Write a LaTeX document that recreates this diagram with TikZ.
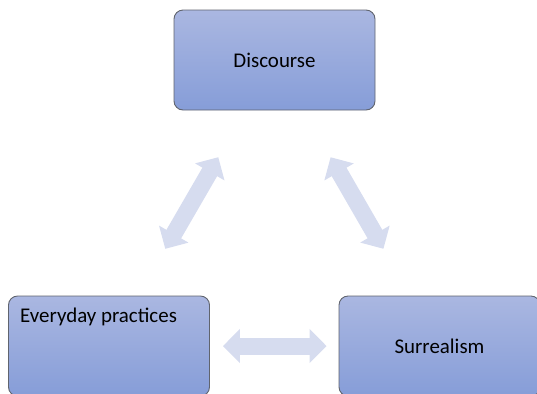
\documentclass[tikz,border=0pt]{standalone}
\usepackage{fontspec}
\setmainfont{Carlito}
\usepackage{tikz}
\usetikzlibrary{arrows.meta}
\definecolor{boxtop}{RGB}{170,183,225}
\definecolor{boxbot}{RGB}{134,157,216}
\definecolor{boxline}{RGB}{96,100,110}
\definecolor{arrowfill}{RGB}{214,220,239}

\begin{document}
\begin{tikzpicture}[x=1bp,y=-1bp,
  box/.style={draw=boxline,line width=0.9bp,rounded corners=9bp,top color=boxtop,bottom color=boxbot,
    minimum width=201bp,minimum height=100bp,inner sep=0pt,font=\fontsize{21}{25}\selectfont},
  link/.style={draw=arrowfill,line width=17bp,{Triangle[length=17bp,width=33bp]}-{Triangle[length=17bp,width=33bp]}}]
\pgfmathsetmacro{\sh}{54}
\clip (0,0) rectangle (537,393);
\useasboundingbox (0,0) rectangle (537,393);
  \node[box] (discourse) at (274.5,60) {Discourse};
  \node[box,label={[anchor=north west,inner sep=0pt,xshift=12bp,yshift=-12bp,font=\fontsize{21}{25}\selectfont]north west:Everyday practices}] (everyday) at (109,346) {};
  \node[box] (surrealism) at (439.5,346) {Surrealism};
  \draw[link,shorten <=\sh bp,shorten >=\sh bp] (everyday) -- (discourse);
  \draw[link,shorten <=\sh bp,shorten >=\sh bp] (discourse) -- (surrealism);
  \draw[link,shorten <=13bp,shorten >=12bp] (everyday) -- (surrealism);
\end{tikzpicture}
\end{document}
